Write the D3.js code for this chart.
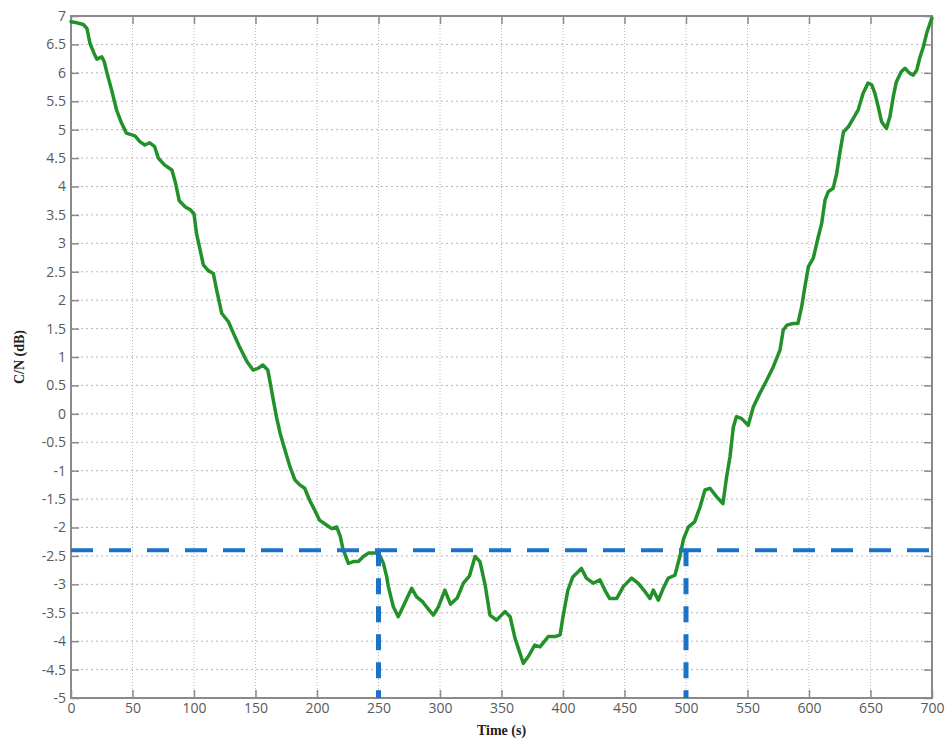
<!DOCTYPE html>
<html>
<head>
<meta charset="utf-8">
<script src="https://cdn.jsdelivr.net/npm/d3@7/dist/d3.min.js"></script>
<style>
  html, body { margin: 0; padding: 0; background: #fff; }
  svg { display: block; }
</style>
</head>
<body>
<svg id="chart" width="948" height="738"></svg>
<script>
// ---- Data ----
const timeS = [0,5,10,13,15.4,19,21,25,27,29,33,37,41,45,52,56,60,64,68,71,76,82,85,88,93,97,100,102,105,107.6,111.6,115.7,118.4,122.5,128,132,137,143,148,152,156,160,162,164.5,167,170,174,178,182,186,190,194,198,202,208,212,216,219,221,225.5,229.5,233.6,237.7,241.7,246,250,254,256.7,258,262,266,270,277,281,286,291,294.6,298.6,304,308.5,314,319,324,328.5,332.5,336.6,340.6,346,352.8,357,361,365,367.7,371.8,377,381.3,388,393.5,397.6,400,404,408,415,419,424.6,430,434,438,443.6,449,455.8,461,466.7,470.7,473.4,477.5,481.5,485.6,491,495,498,502,507,511.4,515.4,519.5,525,530,533,535.8,538.5,541,545,550.6,554.7,560,565.6,571,576.4,579,582,587,591,594,596.7,599.5,603.5,607.6,610.3,613,615.7,619.7,622.5,625,628,632,636,640,644,648,651,653.6,656.3,659,663,665.8,668.5,671,675,678,682,684.8,687.6,690,693,695.7,699.8];
const cnDb = [6.90,6.88,6.85,6.78,6.52,6.33,6.24,6.28,6.20,6.02,5.70,5.35,5.12,4.94,4.89,4.79,4.73,4.77,4.70,4.50,4.38,4.29,4.06,3.75,3.64,3.59,3.52,3.18,2.88,2.62,2.52,2.47,2.18,1.77,1.62,1.42,1.18,0.92,0.77,0.80,0.86,0.77,0.54,0.24,-0.05,-0.34,-0.64,-0.93,-1.16,-1.25,-1.31,-1.52,-1.69,-1.87,-1.96,-2.02,-1.99,-2.16,-2.37,-2.63,-2.60,-2.60,-2.51,-2.45,-2.45,-2.45,-2.63,-2.87,-3.04,-3.39,-3.57,-3.39,-3.07,-3.22,-3.31,-3.45,-3.54,-3.40,-3.10,-3.35,-3.24,-2.98,-2.85,-2.51,-2.60,-3.00,-3.54,-3.63,-3.48,-3.57,-3.95,-4.21,-4.39,-4.27,-4.07,-4.10,-3.92,-3.92,-3.89,-3.57,-3.10,-2.87,-2.72,-2.89,-2.98,-2.92,-3.10,-3.25,-3.25,-3.04,-2.89,-2.98,-3.13,-3.25,-3.10,-3.28,-3.07,-2.89,-2.84,-2.51,-2.20,-1.99,-1.90,-1.64,-1.34,-1.31,-1.46,-1.58,-1.11,-0.75,-0.23,-0.05,-0.08,-0.20,0.12,0.36,0.59,0.83,1.12,1.47,1.56,1.59,1.59,1.88,2.24,2.59,2.74,3.12,3.35,3.76,3.91,3.97,4.23,4.58,4.96,5.05,5.20,5.35,5.64,5.82,5.79,5.64,5.40,5.14,5.02,5.23,5.58,5.84,6.02,6.08,5.99,5.96,6.05,6.26,6.46,6.70,6.96];

const xTicks = [0,50,100,150,200,250,300,350,400,450,500,550,600,650,700];
const yTicks = [7,6.5,6,5.5,5,4.5,4,3.5,3,2.5,2,1.5,1,0.5,0,-0.5,-1,-1.5,-2,-2.5,-3,-3.5,-4,-4.5,-5];
const thresholdDb = -2.4;
const markerTimes = [250, 500];
const xLabel = "Time (s)";
const yLabel = "C/N (dB)";

// ---- Layout ----
const svg = d3.select("#chart");
const L = 71, R = 932, T = 16, B = 698;
const x = d3.scaleLinear().domain([0, 700]).range([L, R]);
const y = d3.scaleLinear().domain([-5, 7]).range([B, T]);

// grid
const grid = svg.append("g");
grid.selectAll("line.gx").data(xTicks.slice(1, -1)).join("line")
  .attr("x1", d => x(d)).attr("x2", d => x(d)).attr("y1", T).attr("y2", B)
  .attr("stroke", "#b8b8b8").attr("stroke-width", 1).attr("stroke-dasharray", "1,2");
grid.selectAll("line.gy").data(yTicks.slice(1, -1)).join("line")
  .attr("y1", d => y(d)).attr("y2", d => y(d)).attr("x1", L).attr("x2", R)
  .attr("stroke", "#b8b8b8").attr("stroke-width", 1).attr("stroke-dasharray", "2,3");

// axes (ticks inside)
const fmt = d => String(d);
const axStyle = g => {
  g.select(".domain").remove();
  g.selectAll(".tick line").attr("stroke", "#8a8a8a").attr("stroke-width", 1.5);
  g.selectAll(".tick text").attr("fill", "#5a5a5a")
    .style("font-family", "'Open Sans', 'DejaVu Sans', sans-serif").style("font-size", "14px");
};
svg.append("g").attr("transform", `translate(0,${B})`)
  .call(d3.axisBottom(x).tickValues(xTicks).tickFormat(fmt).tickSizeInner(-8).tickSizeOuter(0).tickPadding(5))
  .call(axStyle);
svg.append("g").attr("transform", `translate(${L},0)`)
  .call(d3.axisLeft(y).tickValues(yTicks).tickFormat(fmt).tickSizeInner(-8).tickSizeOuter(0).tickPadding(5))
  .call(axStyle);
svg.append("g").attr("transform", `translate(0,${T})`)
  .call(d3.axisTop(x).tickValues(xTicks).tickFormat("").tickSizeInner(-8).tickSizeOuter(0))
  .call(axStyle);
svg.append("g").attr("transform", `translate(${R},0)`)
  .call(d3.axisRight(y).tickValues(yTicks).tickFormat("").tickSizeInner(-8).tickSizeOuter(0))
  .call(axStyle);

// frame
svg.append("rect").attr("x", L).attr("y", T).attr("width", R - L).attr("height", B - T)
  .attr("fill", "none").attr("stroke", "#8a8a8a").attr("stroke-width", 2);

// data line
const pts = timeS.map((t, i) => [t, cnDb[i]]);
svg.append("path").datum(pts)
  .attr("d", d3.line().x(d => x(d[0])).y(d => y(d[1])))
  .attr("fill", "none").attr("stroke", "#22912a").attr("stroke-width", 3.5)
  .attr("stroke-linejoin", "round").attr("stroke-linecap", "round");

// threshold dashed lines
svg.append("line").attr("x1", L).attr("x2", R).attr("y1", y(thresholdDb)).attr("y2", y(thresholdDb))
  .attr("stroke", "#1b72c6").attr("stroke-width", 4).attr("stroke-dasharray", "22,16");
svg.selectAll("line.vm").data(markerTimes).join("line")
  .attr("x1", d => x(d)).attr("x2", d => x(d)).attr("y1", y(thresholdDb)).attr("y2", B)
  .attr("stroke", "#1b72c6").attr("stroke-width", 5).attr("stroke-dasharray", "16,12");

// axis titles
svg.append("text").attr("x", (L + R) / 2).attr("y", 735).attr("text-anchor", "middle")
  .style("font-family", "'Liberation Serif', serif").style("font-weight", "bold").style("font-size", "14px")
  .attr("fill", "#222").text(xLabel);
svg.append("text").attr("transform", `translate(24,${(T + B) / 2}) rotate(-90)`).attr("text-anchor", "middle")
  .style("font-family", "'Liberation Serif', serif").style("font-weight", "bold").style("font-size", "14px")
  .attr("fill", "#222").text(yLabel);
</script>
</body>
</html>
